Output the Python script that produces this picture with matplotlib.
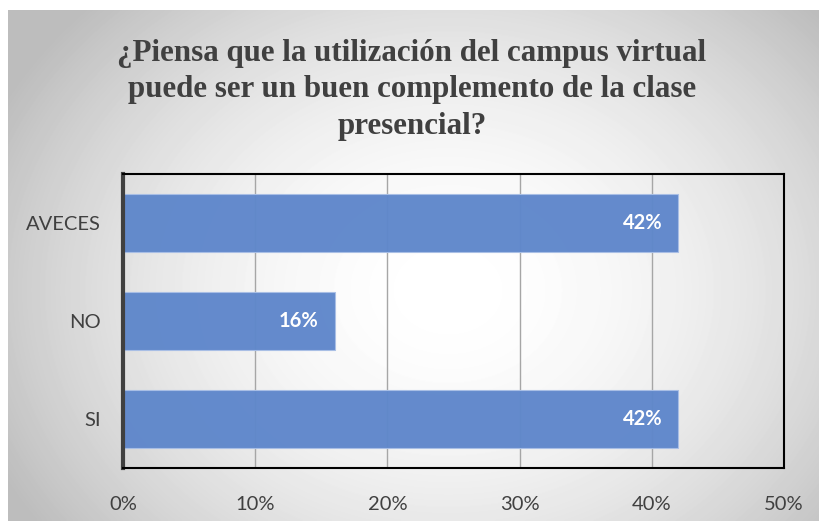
import numpy as np
import matplotlib
matplotlib.use("Agg")
import matplotlib.pyplot as plt

categories = ["SI", "NO", "AVECES"]
values = [0.42, 0.16, 0.42]
labels = ["42%", "16%", "42%"]
xticks = [0, 0.1, 0.2, 0.3, 0.4, 0.5]
xticklabels = ["0%", "10%", "20%", "30%", "40%", "50%"]

TITLE = ("¿Piensa que la utilización del campus virtual\n"
         "puede ser un buen complemento de la clase\n"
         "presencial?")
BAR = "#5F87CB"
TXT = "#404040"

W, H = 820, 521
fig = plt.figure(figsize=(W / 100, H / 100), dpi=100)
fig.patch.set_facecolor("white")

# radial grey gradient behind the chart (chart area starts at x=8, y=10)
bg = fig.add_axes([8 / W, 0, 1 - 8 / W, 1 - 10 / H])
bg.set_axis_off()
yy, xx = np.mgrid[0:511, 0:812]
cx, cy = 440, 280
r = np.sqrt(((xx - cx) / 540.0) ** 2 + ((yy - cy) / 440.0) ** 2)
shade = 1 - 0.30 * np.clip(r, 0, 1.2) ** 1.9
shade = np.clip(shade, 0.74, 1)
bg.imshow(shade, cmap="gray", vmin=0, vmax=1, aspect="auto",
          interpolation="bilinear")

ax = fig.add_axes([123 / W, 53 / H, 661 / W, 294 / H])
ax.patch.set_alpha(0)
y = np.arange(len(categories))
ax.barh(y, values, height=0.59, color=BAR, edgecolor="#a9bfe6",
        linewidth=0.8, zorder=2, alpha=0.97)
for yi, v, lab in zip(y, values, labels):
    ax.text(v - 0.012, yi, lab, ha="right", va="center", color="white",
            fontsize=14.5, fontweight="bold", family="Lato", zorder=3)

ax.set_xlim(0, 0.5)
ax.set_ylim(-0.5, 2.5)
ax.set_xticks(xticks)
ax.set_xticklabels(xticklabels)
ax.set_yticks(y)
ax.set_yticklabels(categories)
ax.tick_params(length=0, labelsize=14.5, labelcolor=TXT)
ax.tick_params(axis="x", pad=20)
ax.tick_params(axis="y", pad=16)
for t in ax.get_xticklabels() + ax.get_yticklabels():
    t.set_family("Lato")
ax.grid(axis="x", color="#a6a6a6", linewidth=1.0, zorder=1)
ax.set_axisbelow(True)
for s in ("top", "right", "bottom"):
    ax.spines[s].set_color("black")
    ax.spines[s].set_linewidth(1.5)
ax.spines["left"].set_color("#404040")
ax.spines["left"].set_linewidth(3)

fig.text(412 / W, 1 - 90 / H, TITLE, ha="center", va="center",
         family="Liberation Serif", fontweight="bold", fontsize=22.3,
         color="#404040", linespacing=1.33)

fig.savefig("out.png", dpi=100)
